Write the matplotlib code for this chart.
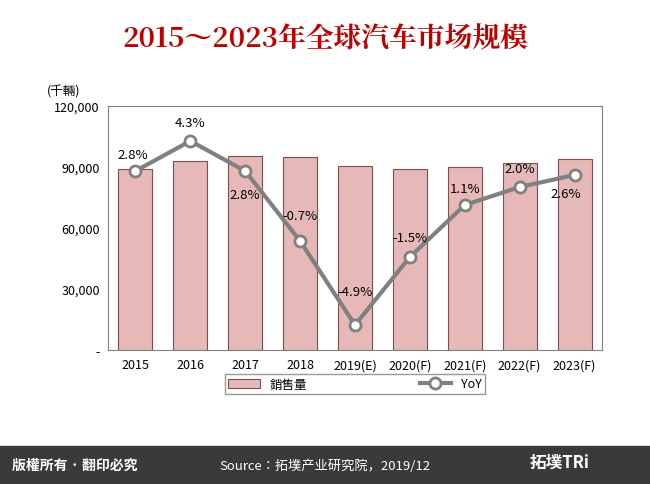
import matplotlib.pyplot as plt
from matplotlib.patches import Rectangle

# Data
years = ["2015", "2016", "2017", "2018", "2019(E)", "2020(F)", "2021(F)", "2022(F)", "2023(F)"]
sales = [89000, 93000, 95500, 95000, 90500, 89000, 90000, 92000, 94000]
yoy = [2.8, 4.3, 2.8, -0.7, -4.9, -1.5, 1.1, 2.0, 2.6]
yoy_labels = ["2.8%", "4.3%", "2.8%", "-0.7%", "-4.9%", "-1.5%", "1.1%", "2.0%", "2.6%"]

plt.rcParams["font.family"] = ["Noto Sans CJK JP", "DejaVu Sans"]

fig = plt.figure(figsize=(6.5, 4.85), dpi=100)
fig.patch.set_facecolor("white")

# Title
fig.text(0.5, 1 - 40 / 485, "2015～2023年全球汽车市场规模", ha="center", va="center",
         fontsize=20, fontweight="bold", color="#c00000",
         family=["Noto Serif CJK JP", "DejaVu Serif"])

ax = fig.add_axes([108 / 650, 1 - 351 / 485, 494 / 650, 244 / 485])
x = range(len(years))
ax.bar(x, sales, width=0.62, color="#e6b9b8", edgecolor="#7f4f4f", linewidth=0.8, label="銷售量")
ax.set_ylim(0, 120000)
ax.set_xlim(-0.5, len(years) - 0.5)
ax.set_yticks([0, 30000, 60000, 90000, 120000])
ax.set_yticklabels(["-", "30,000", "60,000", "90,000", "120,000"], fontsize=9)
ax.set_xticks(list(x))
ax.set_xticklabels(years, fontsize=9)
ax.tick_params(length=0, pad=6)
for s in ax.spines.values():
    s.set_color("#808080")
    s.set_linewidth(0.8)
fig.text(47 / 650, 1 - 92 / 485, "(千輛)", fontsize=9, va="center")

ax2 = ax.twinx()
ax2.plot(x, yoy, color="#808080", linewidth=3, marker="o", markersize=8,
         markerfacecolor="white", markeredgecolor="#808080", markeredgewidth=2, label="YoY")
ax2.set_ylim(-6.15, 6.05)
ax2.set_yticks([])
for s in ax2.spines.values():
    s.set_visible(False)
offsets = [(-2, 12), (0, 13), (0, -17), (0, 18), (0, 24), (0, 14), (0, 12), (0, 13), (-6, -13)]
for i, (v, lab) in enumerate(zip(yoy, yoy_labels)):
    ax2.annotate(lab, (i, v), xytext=offsets[i], textcoords="offset points",
                 ha="center", va="center", fontsize=9.5)

h1, l1 = ax.get_legend_handles_labels()
h2, l2 = ax2.get_legend_handles_labels()
leg = fig.legend(h1 + h2, l1 + l2, loc="center", bbox_to_anchor=(355 / 650, 1 - 385 / 485),
                 ncol=2, fontsize=9, frameon=True, fancybox=False, edgecolor="#808080",
                 handlelength=2.5, columnspacing=9, borderpad=0.3)

# Bottom band
fig.add_artist(Rectangle((0, 0), 1, 38 / 485, transform=fig.transFigure, color="#3a3a3a", zorder=0))
fig.text(12 / 650, 19 / 485, "版權所有 · 翻印必究", color="white", fontsize=10, fontweight="bold", va="center")
fig.text(0.5, 19 / 485, "Source：拓墣产业研究院，2019/12", color="white", fontsize=9.5, ha="center", va="center")
fig.text(560 / 650, 22 / 485, "拓墣TRi", color="white", fontsize=12, fontweight="bold", ha="center", va="center")

fig.savefig("out.png", dpi=100)
